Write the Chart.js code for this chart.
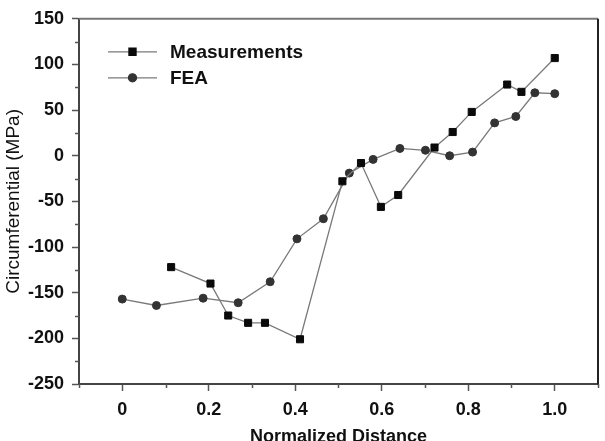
<!DOCTYPE html>
<html>
<head>
<meta charset="utf-8">
<script src="https://cdn.jsdelivr.net/npm/chart.js@4.4.1/dist/chart.umd.min.js"></script>
<style>
  html, body { margin: 0; padding: 0; background: #fff; }
  #wrap { width: 605px; height: 441px; position: relative; }
</style>
</head>
<body>
<div id="wrap"><canvas id="c" width="605" height="441"></canvas></div>
<script>
// ---- data ----
const seriesNames = ['Measurements', 'FEA'];

const measX = [0.113, 0.204, 0.245, 0.291, 0.330, 0.411, 0.509, 0.552, 0.598, 0.638, 0.722, 0.764, 0.808, 0.890, 0.923, 1.0];
const measY = [-122, -140, -175, -183, -183, -201, -28, -8, -56, -43, 9, 26, 48, 78, 70, 107];

const feaX = [0.0, 0.079, 0.187, 0.268, 0.342, 0.404, 0.465, 0.525, 0.580, 0.642, 0.701, 0.757, 0.810, 0.861, 0.910, 0.954, 1.0];
const feaY = [-157, -164, -156, -161, -138, -91, -69, -19, -4, 8, 6, 0, 4, 36, 43, 69, 68];

const xTickValues = [0, 0.2, 0.4, 0.6, 0.8, 1.0];
const xTickLabels = ['0', '0.2', '0.4', '0.6', '0.8', '1.0'];
const xMinorTicks = [-0.1, 0.1, 0.3, 0.5, 0.7, 0.9, 1.1];
const yTickValues = [150, 100, 50, 0, -50, -100, -150, -200, -250];
const yTickLabels = ['150', '100', '50', '0', '-50', '-100', '-150', '-200', '-250'];
const yMinorTicks = [125, 75, 25, -25, -75, -125, -175, -225];

const xTitle = 'Normalized Distance';
const yTitle = 'Circumferential (MPa)';

const toPts = (xs, ys) => xs.map((x, i) => ({ x: x, y: ys[i] }));

// frame + minor ticks + legend, all positioned via the chart's scales
const decor = {
  id: 'decor',
  afterDraw(chart) {
    const ctx = chart.ctx;
    const a = chart.chartArea;
    const xs = chart.scales.x, ys = chart.scales.y;
    ctx.save();
    // top & right frame
    ctx.strokeStyle = '#777';
    ctx.lineWidth = 2;
    ctx.beginPath();
    ctx.moveTo(a.left, a.top);
    ctx.lineTo(a.right, a.top);
    ctx.stroke();
    ctx.strokeStyle = '#222';
    ctx.beginPath();
    ctx.moveTo(a.right, a.top);
    ctx.lineTo(a.right, a.bottom + 1);
    ctx.stroke();
    // minor ticks
    ctx.strokeStyle = '#555';
    ctx.lineWidth = 1.5;
    ctx.beginPath();
    xMinorTicks.forEach(v => {
      const px = Math.round(xs.getPixelForValue(v)) + 0.5;
      ctx.moveTo(px, a.bottom);
      ctx.lineTo(px, a.bottom + 4);
    });
    yMinorTicks.forEach(v => {
      const py = Math.round(ys.getPixelForValue(v)) + 0.5;
      ctx.moveTo(a.left, py);
      ctx.lineTo(a.left - 4, py);
    });
    ctx.stroke();
    // legend
    const lx0 = a.left + 29, lx1 = a.left + 78, tx = a.left + 91;
    const rows = [a.top + 33, a.top + 59];
    chart.data.datasets.forEach((ds, i) => {
      const y = rows[i];
      ctx.strokeStyle = ds.borderColor;
      ctx.lineWidth = ds.borderWidth;
      ctx.beginPath();
      ctx.moveTo(lx0, y);
      ctx.lineTo(lx1, y);
      ctx.stroke();
      ctx.fillStyle = ds.pointBackgroundColor;
      ctx.strokeStyle = ds.pointBorderColor;
      Chart.helpers.drawPoint(ctx, { pointStyle: ds.pointStyle, radius: ds.pointRadius, borderWidth: 1 }, (lx0 + lx1) / 2, y);
      ctx.fillStyle = '#111';
      ctx.font = 'bold 19px "Liberation Sans", Arial, sans-serif';
      ctx.textBaseline = 'middle';
      ctx.textAlign = 'left';
      ctx.fillText(ds.label, tx, y + 1);
    });
    ctx.restore();
  }
};

new Chart(document.getElementById('c'), {
  type: 'scatter',
  data: {
    datasets: [
      {
        label: seriesNames[0],
        data: toPts(measX, measY),
        showLine: true,
        borderColor: '#7a7a7a',
        borderWidth: 1.3,
        pointStyle: 'rect',
        pointRadius: 5,
        pointBackgroundColor: '#0a0a0a',
        pointBorderColor: '#0a0a0a',
        pointBorderWidth: 1
      },
      {
        label: seriesNames[1],
        data: toPts(feaX, feaY),
        showLine: true,
        borderColor: '#7a7a7a',
        borderWidth: 1.3,
        pointStyle: 'circle',
        pointRadius: 4,
        pointBackgroundColor: '#333',
        pointBorderColor: '#333',
        pointBorderWidth: 1
      }
    ]
  },
  options: {
    responsive: false,
    animation: false,
    layout: { padding: { left: 0, top: 16, right: 7, bottom: 0 } },
    plugins: { legend: { display: false }, tooltip: { enabled: false } },
    scales: {
      x: {
        type: 'linear',
        min: -0.1,
        max: 1.1,
        afterBuildTicks: s => { s.ticks = xTickValues.map(v => ({ value: v })); },
        afterFit: s => { s.height = 57; },
        ticks: {
          callback: (v) => { const i = xTickValues.findIndex(t => Math.abs(t - v) < 1e-9); return i >= 0 ? xTickLabels[i] : ''; },
          color: '#111',
          font: { family: '"Liberation Sans", Arial, sans-serif', size: 18, weight: 'bold' },
          padding: 8,
          maxRotation: 0,
          autoSkip: false
        },
        grid: { display: true, drawOnChartArea: false, drawTicks: true, tickLength: 7, tickColor: '#555', tickWidth: 1.5 },
        border: { display: true, color: '#444', width: 2 },
        title: {
          display: true,
          text: xTitle,
          color: '#111',
          font: { family: '"Liberation Sans", Arial, sans-serif', size: 18, weight: 'bold', lineHeight: 1.0 },
          padding: { top: 0, bottom: -5 }
        }
      },
      y: {
        type: 'linear',
        min: -250,
        max: 150,
        afterBuildTicks: s => { s.ticks = yTickValues.map(v => ({ value: v })); },
        afterFit: s => { s.width = 79; },
        ticks: {
          callback: (v) => { const i = yTickValues.indexOf(v); return i >= 0 ? yTickLabels[i] : ''; },
          color: '#111',
          font: { family: '"Liberation Sans", Arial, sans-serif', size: 18, weight: 'bold' },
          padding: 8
        },
        grid: { display: true, drawOnChartArea: false, drawTicks: true, tickLength: 7, tickColor: '#555', tickWidth: 1.5 },
        border: { display: true, color: '#444', width: 2 },
        title: {
          display: true,
          text: yTitle,
          color: '#111',
          font: { family: '"Liberation Sans", Arial, sans-serif', size: 19, weight: 'normal', lineHeight: 1.2 },
          padding: { top: 2, bottom: 0 }
        }
      }
    }
  },
  plugins: [decor]
});
</script>
</body>
</html>
